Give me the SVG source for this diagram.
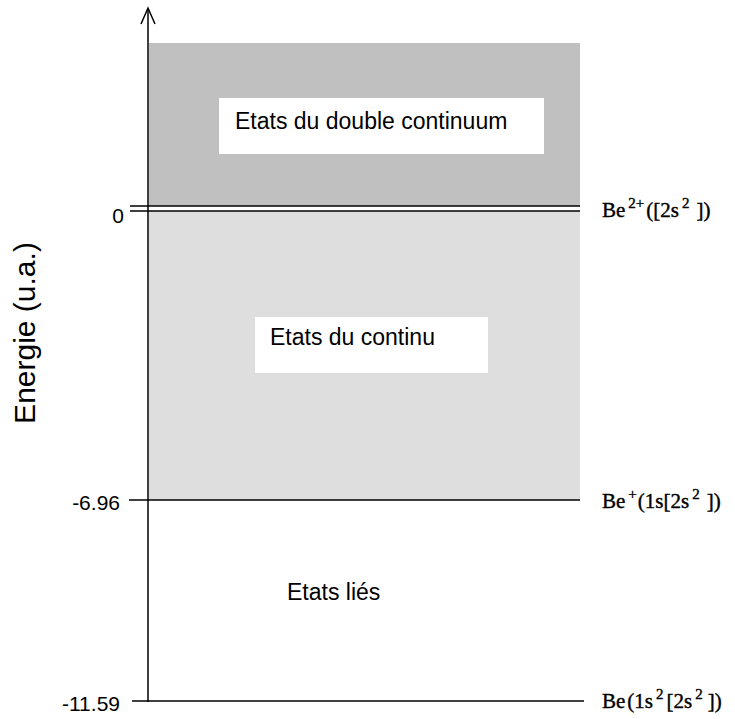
<svg xmlns="http://www.w3.org/2000/svg" width="735" height="719" viewBox="0 0 735 719">
<style>
.lv{stroke:#000;stroke-width:1.5;fill:none}
.ax{font-family:"Liberation Sans",Arial,sans-serif;font-size:21px;fill:#000;text-anchor:end}
.box{fill:#fff}
.lab{font-family:"Liberation Sans",Arial,sans-serif;font-size:23px;fill:#000}
.st{font-family:"Liberation Serif","Times New Roman",serif;font-size:21px;fill:#000;stroke:#000;stroke-width:0.4}
.sup{font-size:15px}
</style>
<rect width="735" height="719" fill="#fff"/>
<g id="double-continuum">
<rect x="149" y="43" width="431" height="163" fill="#c0c0c0"/>
<rect class="box" x="219" y="98" width="325" height="56"/>
<text class="lab" x="235" y="129">Etats du double continuum</text>
</g>
<g id="continuum">
<rect x="149" y="211" width="431" height="289" fill="#dedede"/>
<rect class="box" x="255" y="317" width="233" height="56"/>
<text class="lab" x="270" y="345">Etats du continu</text>
</g>
<g id="bound">
<text class="lab" x="287" y="600">Etats liés</text>
</g>
<g id="connectors">
<line class="lv" x1="148" y1="9" x2="148" y2="702"/>
<polyline class="lv" points="141,24 148,8 155,24"/>
<line class="lv" x1="130" y1="206" x2="580" y2="206"/>
<line class="lv" x1="130" y1="211" x2="580" y2="211"/>
<line class="lv" x1="129" y1="500" x2="580" y2="500"/>
<line class="lv" x1="132" y1="701" x2="584" y2="701"/>
</g>
<g id="axis-labels">
<text class="ax" x="124" y="223">0</text>
<text class="ax" x="120" y="510">-6.96</text>
<text class="ax" x="120" y="711">-11.59</text>
<text font-family="Liberation Sans,Arial,sans-serif" font-size="30" text-anchor="middle" transform="translate(35,333) rotate(-90)">Energie (u.a.)</text>
</g>
<g id="state-labels">
<text class="st" x="602" y="217">Be<tspan class="sup" dx="3" dy="-9">2+</tspan><tspan dx="2" dy="9">([2s</tspan><tspan class="sup" dx="3" dy="-9">2</tspan><tspan dx="7" dy="9">])</tspan></text>
<text class="st" x="602" y="508">Be<tspan class="sup" dx="3" dy="-9">+</tspan><tspan dx="1" dy="9">(1s[2s</tspan><tspan class="sup" dx="3" dy="-9">2</tspan><tspan dx="7" dy="9">])</tspan></text>
<text class="st" x="602" y="708">Be<tspan dx="2">(1s</tspan><tspan class="sup" dx="3" dy="-9">2</tspan><tspan dx="3" dy="9">[2s</tspan><tspan class="sup" dx="3" dy="-9">2</tspan><tspan dx="5" dy="9">])</tspan></text>
</g>
</svg>
